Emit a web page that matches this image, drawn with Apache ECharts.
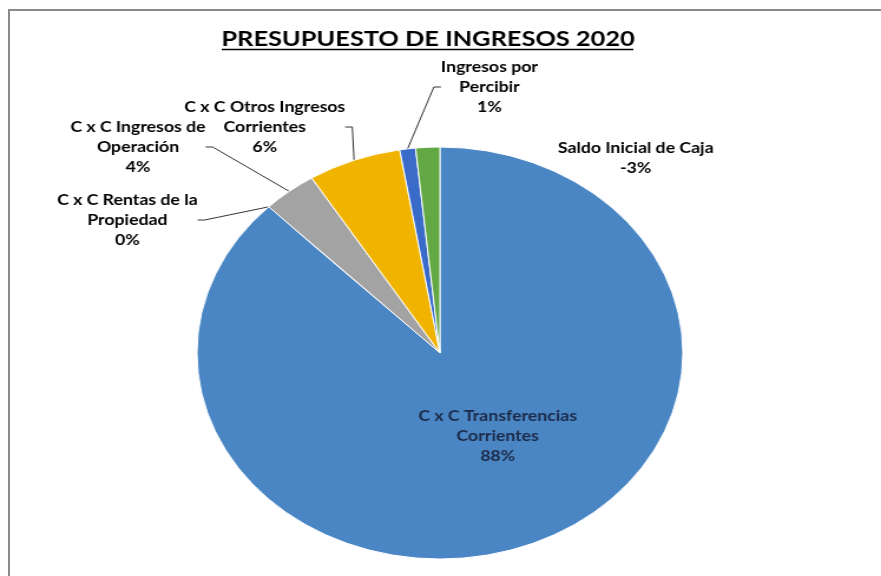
<!DOCTYPE html>
<html>
<head>
<meta charset="utf-8">
<script src="https://cdn.jsdelivr.net/npm/echarts@6/dist/echarts.min.js"></script>
<style>
  html, body { margin: 0; padding: 0; background: #fff; }
  #frame { position: absolute; left: 8px; top: 9px; width: 880px; height: 570px;
           border-top: 2px solid #8a8a8a; border-left: 2px solid #8a8a8a; }
  #chart { position: absolute; left: 0; top: 0; width: 747px; height: 576px;
           transform: scaleX(1.1794); transform-origin: 0 0; }
</style>
</head>
<body>
<div id="frame"></div>
<div id="chart"></div>
<script>
// ---- data ----
const titleText = 'PRESUPUESTO DE INGRESOS 2020';
const categories = [
  'C x C Transferencias\nCorrientes',
  'C x C Rentas de la\nPropiedad',
  'C x C Ingresos de\nOperación',
  'C x C Otros Ingresos\nCorrientes',
  'Ingresos por\nPercibir',
  'Saldo Inicial de Caja'
];
const values = [87.6, 0, 3.6, 6.2, 1.05, 1.6];            // share of the circle
const shownPercents = ['88%', '0%', '4%', '6%', '1%', '-3%']; // labels as printed
// ---- presentation ----
const colors = ['#4A86C4', '#ED7D31', '#A3A3A3', '#F0B400', '#3A6BC8', '#63A845'];
const labelCenters = [[422, 436], [108, 220], [117, 147], [224.5, 127], [415, 87], [539, 158]];

const chart = echarts.init(document.getElementById('chart'), null, { renderer: 'canvas' });
const fontFamily = 'Lato, "Liberation Sans", sans-serif';

chart.setOption({
  backgroundColor: 'transparent',
  animation: false,
  title: {
    text: titleText,
    left: 358, top: 23, textAlign: 'center',
    textStyle: { fontFamily, fontSize: 21.5, fontWeight: 'bold', color: '#000' }
  },
  graphic: [{
    type: 'line', shape: { x1: 188, y1: 49.5, x2: 537, y2: 49.5 },
    style: { stroke: '#000', lineWidth: 1.5 }
  }],
  series: [{
    type: 'pie',
    center: [373, 353],
    radius: 206,
    startAngle: 90,
    clockwise: true,
    avoidLabelOverlap: false,
    itemStyle: { borderColor: '#fff', borderWidth: 1 },
    label: {
      show: true,
      fontFamily, fontSize: 15, fontWeight: 'bold', color: '#000',
      lineHeight: 20, align: 'center',
      formatter: p => p.name + '\n' + shownPercents[p.dataIndex]
    },
    labelLine: { show: true, length: 10, length2: 6, lineStyle: { color: '#333', width: 1 } },
    labelLayout: p => ({
      x: labelCenters[p.dataIndex][0],
      y: labelCenters[p.dataIndex][1],
      align: 'center', verticalAlign: 'middle'
    }),
    data: categories.map((c, i) => {
      const item = { name: c, value: values[i], itemStyle: { color: colors[i] } };
      if (i === 0) {
        item.label = { position: 'inside', color: '#1C2A48' };
        item.labelLine = { show: false };
      }
      if (i === 5) item.labelLine = { show: false };
      return item;
    })
  }]
});
</script>
</body>
</html>
